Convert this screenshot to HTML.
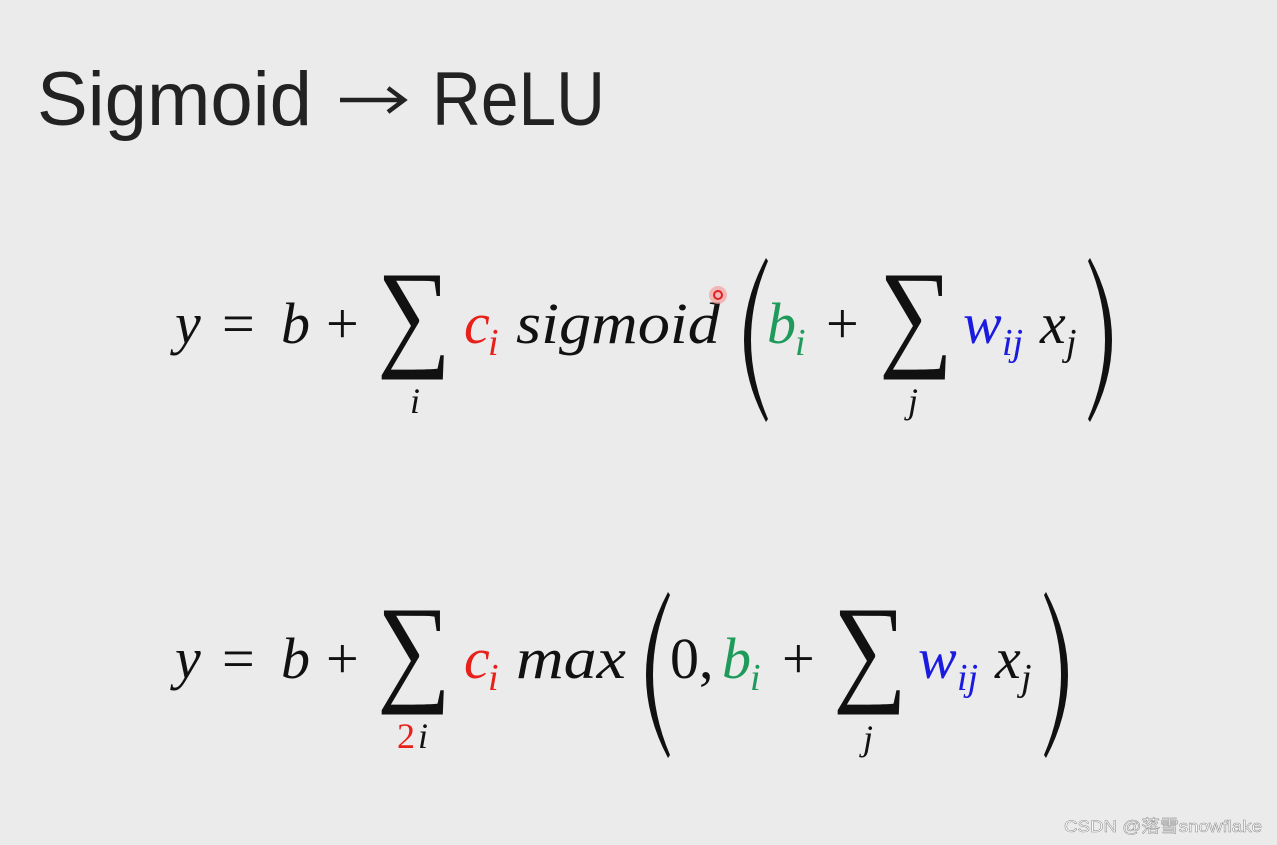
<!DOCTYPE html>
<html><head><meta charset="utf-8"><style>
html,body{margin:0;padding:0;background:#ebebeb;}
svg{display:block}
</style></head><body>
<svg width="1277" height="845" viewBox="0 0 1277 845" xmlns="http://www.w3.org/2000/svg">
<rect width="1277" height="845" fill="#ebebeb"/>
<g font-family="Liberation Sans, sans-serif" font-size="76" fill="#222">
<text x="37" y="125" textLength="275" lengthAdjust="spacingAndGlyphs">Sigmoid</text>
<text x="432" y="125" textLength="173" lengthAdjust="spacingAndGlyphs">ReLU</text>
</g>
<path d="M340,100 L402,100 M388,88 L404,100 L388,112" stroke="#222" stroke-width="4.5" fill="none"/>
<g font-family="Liberation Serif, serif" font-style="italic" font-size="58" fill="#111">
 <!-- line 1 -->
 <text x="175" y="343">y</text>
 <text x="222" y="343" font-style="normal">=</text>
 <text x="281" y="343">b</text>
 <text x="326" y="343" font-style="normal">+</text>
 <text x="377" y="354" font-style="normal" font-size="120" textLength="74" lengthAdjust="spacingAndGlyphs">∑</text>
 <text x="410" y="413" font-size="36">i</text>
 <text x="464" y="343" fill="#e8201a">c</text><text x="488" y="355" fill="#e8201a" font-size="38">i</text>
 <text x="516" y="343" textLength="204" lengthAdjust="spacingAndGlyphs">sigmoid</text>
 <text x="767" y="343" fill="#1e9a5a">b</text><text x="795" y="355" fill="#1e9a5a" font-size="38">i</text>
 <text x="826" y="343" font-style="normal">+</text>
 <text x="879" y="354" font-style="normal" font-size="120" textLength="74" lengthAdjust="spacingAndGlyphs">∑</text>
 <text x="908" y="413" font-size="36">j</text>
 <text x="963" y="343" fill="#1a1ae0">w</text><text x="1002" y="355" fill="#1a1ae0" font-size="38">ij</text>
 <text x="1040" y="343">x</text><text x="1066" y="355" font-size="38">j</text>
 <!-- line 2 -->
 <text x="175" y="678">y</text>
 <text x="222" y="678" font-style="normal">=</text>
 <text x="281" y="678">b</text>
 <text x="326" y="678" font-style="normal">+</text>
 <text x="377" y="689" font-style="normal" font-size="120" textLength="74" lengthAdjust="spacingAndGlyphs">∑</text>
 <text x="397" y="748" font-size="36" font-style="normal" fill="#e8201a">2</text><text x="418" y="748" font-size="36">i</text>
 <text x="464" y="678" fill="#e8201a">c</text><text x="488" y="690" fill="#e8201a" font-size="38">i</text>
 <text x="516" y="678" textLength="110" lengthAdjust="spacingAndGlyphs">max</text>
 <text x="670" y="678" font-style="normal">0,</text>
 <text x="722" y="678" fill="#1e9a5a">b</text><text x="750" y="690" fill="#1e9a5a" font-size="38">i</text>
 <text x="782" y="678" font-style="normal">+</text>
 <text x="833" y="689" font-style="normal" font-size="120" textLength="74" lengthAdjust="spacingAndGlyphs">∑</text>
 <text x="863" y="750" font-size="36">j</text>
 <text x="918" y="678" fill="#1a1ae0">w</text><text x="957" y="690" fill="#1a1ae0" font-size="38">ij</text>
 <text x="995" y="678">x</text><text x="1021" y="690" font-size="38">j</text>
</g>
<g fill="#111">
 <path d="M766,258 Q722,340 766,422 L768,419 Q734,340 768,261 Z"/>
 <path d="M1090,258 Q1134,340 1090,422 L1088,419 Q1122,340 1088,261 Z"/>
 <path d="M668,592 Q624,675 668,758 L670,755 Q636,675 670,595 Z"/>
 <path d="M1046,592 Q1090,675 1046,758 L1044,755 Q1078,675 1044,595 Z"/>
</g>
<circle cx="718" cy="295" r="9" fill="#f5a0a0" opacity="0.7"/>
<circle cx="718" cy="295" r="4" fill="none" stroke="#e02020" stroke-width="2"/>
<text x="1064" y="832" font-family="Liberation Sans, Noto Sans CJK SC, sans-serif" font-size="17" fill="#ffffff" stroke="#8a8a8a" stroke-width="0.5" textLength="198" lengthAdjust="spacingAndGlyphs">CSDN @落雪snowflake</text>
</svg>
</body></html>
